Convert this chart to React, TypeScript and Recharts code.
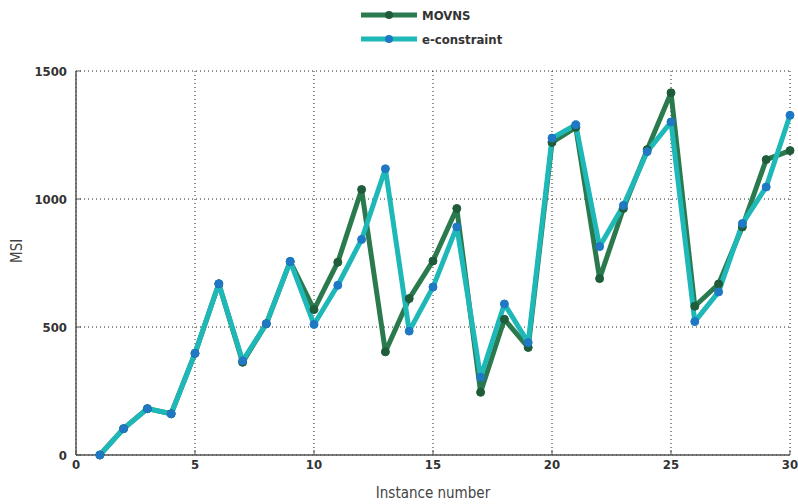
import { CartesianGrid, Line, LineChart, XAxis, YAxis } from 'recharts';

const INSTANCES = [1, 2, 3, 4, 5, 6, 7, 8, 9, 10, 11, 12, 13, 14, 15, 16, 17, 18, 19, 20, 21, 22, 23, 24, 25, 26, 27, 28, 29, 30];
const MOVNS = [0, 103, 181, 161, 397, 669, 362, 513, 756, 568, 753, 1037, 403, 611, 758, 963, 245, 530, 420, 1221, 1280, 689, 963, 1193, 1415, 581, 668, 891, 1154, 1189];
const ECONSTRAINT = [0, 103, 181, 161, 397, 669, 368, 513, 756, 510, 663, 842, 1118, 484, 656, 891, 304, 590, 439, 1238, 1290, 814, 975, 1185, 1301, 521, 637, 904, 1047, 1327];
const X_TICKS = [0, 5, 10, 15, 20, 25, 30];
const Y_TICKS = [0, 500, 1000, 1500];

const FONT = '"DejaVu Sans Condensed", "Liberation Sans Narrow", "Liberation Sans", sans-serif';
const GREEN = '#2b7a4e';
const GREEN_DOT = '#1e5c3a';
const CYAN = '#1fb8b8';
const BLUE_DOT = '#1f78c4';

const data = INSTANCES.map((n, i) => ({ n, movns: MOVNS[i], econ: ECONSTRAINT[i] }));

const SERIES = [
  { name: 'MOVNS', color: GREEN, dot: GREEN_DOT },
  { name: 'e-constraint', color: CYAN, dot: BLUE_DOT },
];

// legend sits above the plot, drawn on top of the chart so it doesn't eat plot height
function LegendBox() {
  return (
    <svg width={200} height={50} style={{ position: 'absolute', left: 361, top: 3, overflow: 'visible' }}>
      {SERIES.map((s, i) => {
        const y = 12 + i * 24;
        return (
          <g key={s.name}>
            <line x1={0} x2={56} y1={y} y2={y} stroke={s.color} strokeWidth={5} />
            <circle cx={28} cy={y} r={4} fill={s.dot} />
            <text x={61} y={y + 5} fontFamily={FONT} fontWeight="bold" fontSize={13} fill="#333">
              {s.name}
            </text>
          </g>
        );
      })}
    </svg>
  );
}

export default function App() {
  const tickStyle = { fill: '#333', fontSize: 13, fontWeight: 'bold' as const, fontFamily: FONT };
  return (
    <div style={{ position: 'absolute', left: 0, top: 0, width: 798, height: 504, background: '#fff' }}>
      <LineChart width={798} height={504} data={data} margin={{ top: 71, right: 8, bottom: 0, left: 0 }}>
        <CartesianGrid stroke="#222" strokeDasharray="1 3" horizontalValues={Y_TICKS} verticalValues={X_TICKS} />
        <XAxis
          dataKey="n"
          type="number"
          domain={[0, 30]}
          ticks={X_TICKS}
          height={49}
          tickSize={-5}
          tickMargin={10}
          tick={tickStyle}
          stroke="#555"
          axisLine={{ stroke: '#555', strokeWidth: 1.5 }}
          label={{ value: 'Instance number', position: 'insideBottom', offset: 6, fill: '#444', fontSize: 15, fontFamily: FONT }}
        />
        <YAxis
          type="number"
          domain={[0, 1500]}
          ticks={Y_TICKS}
          width={76}
          tickSize={-5}
          tickMargin={14}
          tick={tickStyle}
          stroke="#555"
          axisLine={{ stroke: '#555', strokeWidth: 1.5 }}
          label={{ value: 'MSI', angle: -90, position: 'insideLeft', offset: 17, fill: '#444', fontSize: 15, fontFamily: FONT }}
        />
        <Line
          dataKey="movns"
          name="MOVNS"
          stroke={GREEN}
          strokeWidth={5}
          strokeLinejoin="round"
          dot={{ r: 4, fill: GREEN_DOT, stroke: GREEN_DOT, strokeWidth: 1 }}
          isAnimationActive={false}
        />
        <Line
          dataKey="econ"
          name="e-constraint"
          stroke={CYAN}
          strokeWidth={5}
          strokeLinejoin="round"
          dot={{ r: 4, fill: BLUE_DOT, stroke: BLUE_DOT, strokeWidth: 1 }}
          isAnimationActive={false}
        />
      </LineChart>
      <LegendBox />
    </div>
  );
}
